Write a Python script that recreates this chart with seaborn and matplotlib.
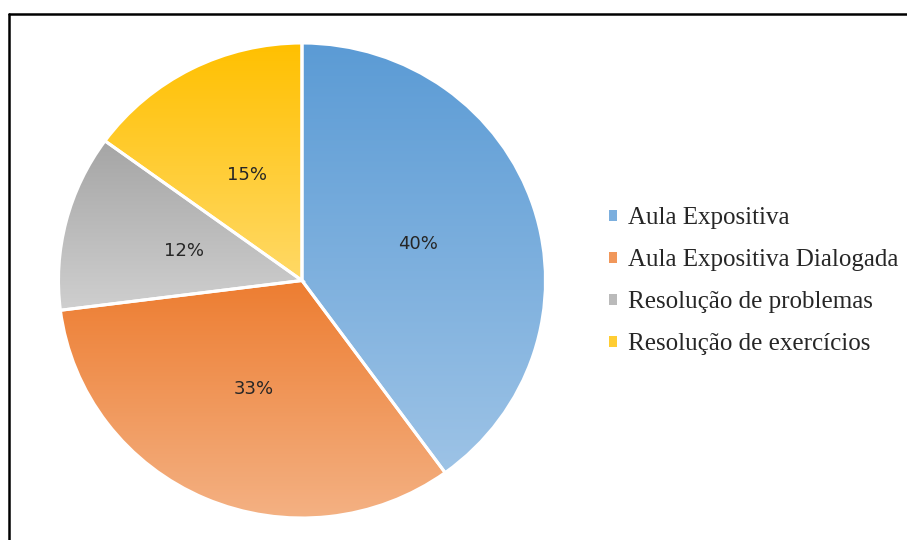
import matplotlib
matplotlib.use("Agg")
import matplotlib.pyplot as plt
import numpy as np
import seaborn as sns
from matplotlib.colors import to_rgb
from matplotlib.lines import Line2D
from matplotlib.patches import Patch

# data
categories = ['Aula Expositiva', 'Aula Expositiva Dialogada',
              'Resolução de problemas', 'Resolução de exercícios']
shares = [40, 33, 12, 15]

# gradient ends (top, bottom) for each slice
top_colors = ['#5B9BD5', '#ED7D31', '#A5A5A5', '#FFC000']
bottom_colors = ['#9DC3E6', '#F4B183', '#CFCFCF', '#FFD966']

sns.set_theme(style='white')
plt.rcParams['font.family'] = ['DejaVu Sans']

W, H = 907, 540
fig = plt.figure(figsize=(W / 100, H / 100), dpi=100, facecolor='white')

# pie is drawn slightly wider than tall, like the reference
cx, cy, rx, ry = 302, H - 280.5, 243.5, 237.5
ax = fig.add_axes([(cx - rx) / W, (cy - ry) / H, 2 * rx / W, 2 * ry / H])

wedges, texts, autotexts = ax.pie(
    shares, colors=top_colors, startangle=90, counterclock=False,
    autopct='%1.0f%%', pctdistance=0.5, radius=1,
    wedgeprops=dict(edgecolor='white', linewidth=2.2),
    textprops=dict(fontsize=13, color='#262626'))


def gradient_fill(ax, wedge, c_top, c_bot):
    x0, y0, x1, y1 = wedge.get_path().get_extents().extents
    t = np.linspace(0, 1, 256)[:, None, None]
    img = (1 - t) * np.array(to_rgb(c_top)) + t * np.array(to_rgb(c_bot))
    im = ax.imshow(img, extent=(x0, x1, y0, y1), origin='upper',
                   aspect='auto', interpolation='bilinear', zorder=1)
    im.set_clip_path(wedge)
    wedge.set_facecolor('none')
    wedge.set_zorder(2)


for w, ct, cb in zip(wedges, top_colors, bottom_colors):
    gradient_fill(ax, w, ct, cb)

for t in autotexts:
    t.set_zorder(3)

ax.set_xlim(-1, 1)
ax.set_ylim(-1, 1)
ax.set_aspect('auto')
ax.axis('off')

# legend with small square markers
handles = [Patch(facecolor=(np.array(to_rgb(a)) + np.array(to_rgb(b))) / 2, edgecolor='none')
           for a, b in zip(top_colors, bottom_colors)]
fig.legend(handles, categories, loc='center left',
           bbox_to_anchor=(609 / W, (H - 281) / H), frameon=False,
           prop=dict(family='Liberation Serif', size=18),
           handlelength=0.3, handleheight=0.3, handletextpad=0.45,
           labelspacing=0.8, borderaxespad=0, borderpad=0)

# partial frame: top and left edges
fig.add_artist(Line2D([9 / W, 1], [(H - 14) / H] * 2, color='black', lw=1.8,
                      transform=fig.transFigure))
fig.add_artist(Line2D([9 / W] * 2, [0, (H - 14) / H], color='black', lw=1.8,
                      transform=fig.transFigure))

fig.savefig('out.png', dpi=100, facecolor='white')
